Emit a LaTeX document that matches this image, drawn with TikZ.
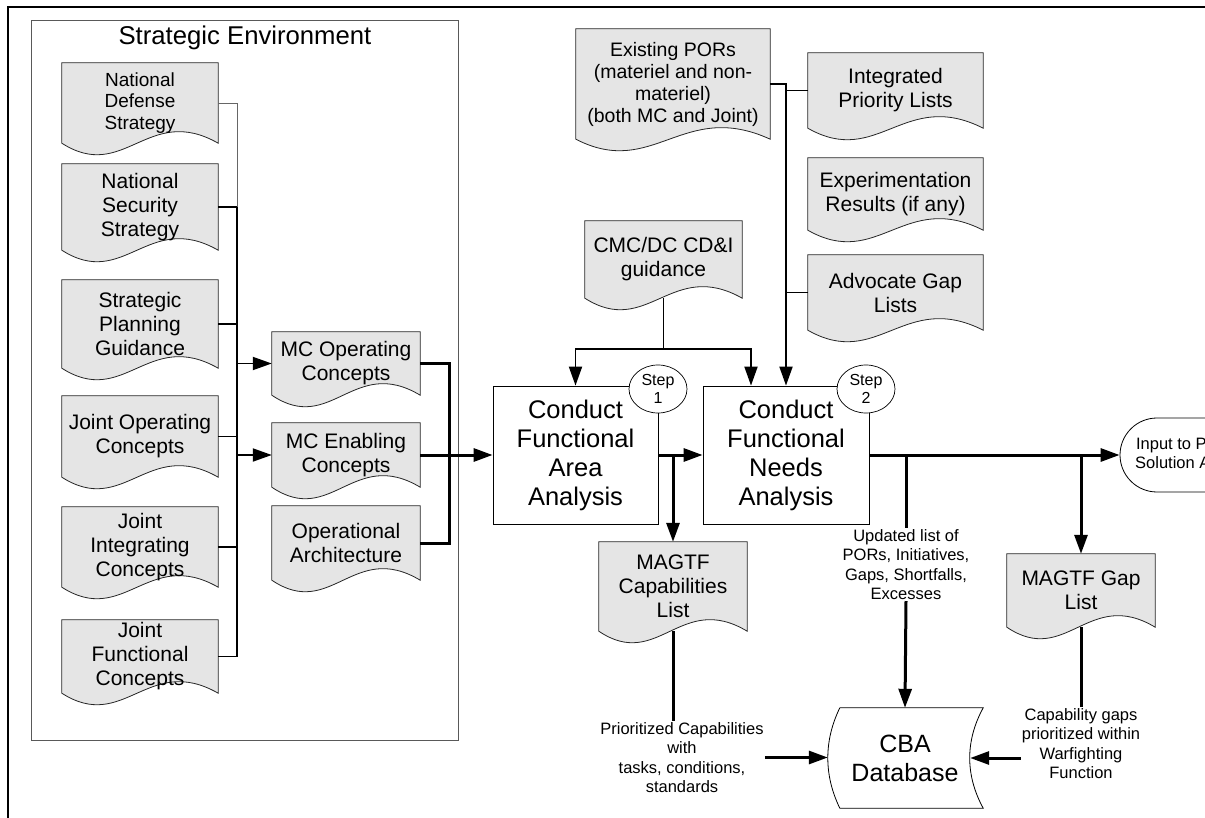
\documentclass[tikz,border=0pt]{standalone}
\usepackage{fontspec}
\setmainfont{Liberation Sans}
\usetikzlibrary{arrows.meta,calc,shapes.geometric,backgrounds}

\tikzset{
  doc/.style={rectangle, inner sep=1pt, align=center, minimum width=156pt,
    font=\fontsize{21}{24}\selectfont},
  docline/.style={draw=black!85, fill=black!10, line width=0.8pt},
  stepbox/.style={rectangle, draw, fill=white, line width=0.8pt, align=center,
    minimum height=138pt, font=\fontsize{25.5}{29}\selectfont},
  stepno/.style={ellipse, draw, fill=white, line width=0.7pt, inner sep=0pt,
    minimum width=58pt, minimum height=48pt, align=center,
    font=\fontsize{16}{17.5}\selectfont},
  lbl/.style={align=center, inner sep=1pt, font=\fontsize{16.5}{19.5}\selectfont},
  link/.style={line width=1.9pt},
  fat/.style={line width=3pt},
}

\newcommand{\docshape}[1]{%
  \filldraw[docline] (#1.south west) -- (#1.north west) -- (#1.north east) -- (#1.south east)
    .. controls ($(#1.south east)!0.45!(#1.south west)+(0,-40)$)
    and ($(#1.south east)!0.6!(#1.south west)+(0,40)$) .. (#1.south west) -- cycle;}

\begin{document}
\begin{tikzpicture}[x=1pt,y=-1pt,>={Triangle[length=19pt,width=13pt]}]
\useasboundingbox (0,0) rectangle (1205,818);
\clip (0,0) rectangle (1205,818);

% frame
\draw[line width=2pt] (8,830) -- (8,7) -- (1220,7);
\draw[draw=black!65, line width=0.9pt] (31,20) rectangle (458,740);
\node[font=\fontsize{25.7}{30}\selectfont] (envt) at (245,38) {Strategic Environment};

% strategic documents
\node[doc, minimum height=80pt, font=\fontsize{19}{21.5}\selectfont] (nds) at (140,103) {National\\Defense\\Strategy};
\node[doc, minimum height=86pt] (nss) at (140,207) {National\\Security\\Strategy};
\node[doc, minimum height=88pt] (spg) at (140,324) {Strategic\\Planning\\Guidance};
\node[doc, minimum height=81pt] (joc) at (140,436.5) {Joint Operating\\Concepts};
\node[doc, minimum height=80pt] (jic) at (140,547) {Joint\\Integrating\\Concepts};
\node[doc, minimum height=73pt] (jfc) at (140,656.5) {Joint\\Functional\\Concepts};

\node[doc, minimum width=148pt, minimum height=63pt] (mco) at (346,363.5) {MC Operating\\Concepts};
\node[doc, minimum width=148pt, minimum height=64pt] (mce) at (346,455) {MC Enabling\\Concepts};
\node[doc, minimum width=148pt, minimum height=74pt] (arc) at (346,543) {Operational\\Architecture};

% inputs
\node[doc, minimum width=194pt, minimum height=110pt, font=\fontsize{19.5}{22}\selectfont] (pors) at (673,84) {Existing PORs\\(materiel and non-\\materiel)\\(both MC and Joint)};
\node[doc, minimum width=175pt, minimum height=75pt] (ipl) at (895.5,90.5) {Integrated\\Priority Lists};
\node[doc, minimum width=175pt, minimum height=72pt] (exr) at (895.5,194) {Experimentation\\Results (if any)};
\node[doc, minimum width=175pt, minimum height=75pt] (agl) at (895.5,292.5) {Advocate Gap\\Lists};
\node[doc, minimum width=157pt, minimum height=77pt] (cmc) at (663.5,259.5) {CMC/DC CD\&I\\guidance};

% steps
\node[stepbox, minimum width=165pt] (faa) at (575.5,455) {Conduct\\Functional\\Area\\Analysis};
\node[stepbox, minimum width=166pt] (fna) at (786,455) {Conduct\\Functional\\Needs\\Analysis};
\node[stepno] (s1) at (658,389) {Step\\1};
\node[stepno] (s2) at (866,389) {Step\\2};

% outputs
\node[doc, minimum width=148pt, minimum height=89pt] (capl) at (673,586.5) {MAGTF\\Capabilities\\List};
\node[doc, minimum width=148pt, minimum height=73pt] (gap) at (1081,590.5) {MAGTF Gap\\List};
\node[rectangle, draw, line width=0.8pt, rounded corners=37pt, minimum width=156pt, minimum height=74pt,
  align=center, font=\fontsize{16.5}{19}\selectfont] (inp) at (1198,455) {Input to Potential\\Solution Analysis};
\node[minimum width=130pt, minimum height=100pt, align=center, font=\fontsize{25}{29}\selectfont] (cba) at (905,758) {CBA\\Database};
\draw[line width=0.8pt] (cba.north west) -- ($(cba.north east)+(13,0)$)
  .. controls ($(cba.north east)+(-5,33)$) and ($(cba.south east)+(-5,-33)$) .. ($(cba.south east)+(13,0)$)
  -- (cba.south west)
  .. controls ($(cba.south west)+(-16,-33)$) and ($(cba.north west)+(-16,33)$) .. (cba.north west);
\coordinate (cbaL) at ($(cba.west)+(-12,0)$);

\node[lbl] (upd) at (906,564.5) {Updated list of\\PORs, Initiatives,\\Gaps, Shortfalls,\\Excesses};
\node[lbl] (prio) at (682,757.5) {Prioritized Capabilities\\with\\tasks, conditions,\\standards};
\node[lbl] (gapl) at (1081,743.5) {Capability gaps\\prioritized within\\Warfighting\\Function};

\begin{scope}[on background layer]
\foreach \d in {nds,nss,spg,joc,jic,jfc,mco,mce,arc,pors,ipl,exr,agl,cmc,capl,gap}
  {\docshape{\d}}
\end{scope}

% left bus
\coordinate (lbus) at (237,0);
\draw[line width=0.9pt, black!60] (nds.east) -- (nds.east -| lbus) -- (nss.east -| lbus);
\draw[link] (nss.east -| lbus) -- (jfc.east -| lbus);
\foreach \n in {nss,spg,joc,jic,jfc}
  \draw[link] (\n.east) -- (\n.east -| lbus);
\draw[link,->] (mco.west -| lbus) -- (mco.west);
\draw[link,->] (mce.west -| lbus) -- (mce.west);

% MC concepts into step 1
\coordinate (rbus) at (449,0);
\draw[fat] (mco.east) -- (mco.east -| rbus) -- (arc.east -| rbus) -- (arc.east);
\draw[fat,->] (mce.east) -- (faa.west);

% guidance and lists
\coordinate (cmcj) at (663.5,349);
\draw[link] (cmc.south) -- (cmcj);
\draw[link,->] (cmcj) -| (faa.north);
\draw[link,->] (cmcj) -| ([xshift=-35pt]fna.north);
\draw[link,->] (pors.east) -- (pors.east -| fna.north) -- (fna.north);
\draw[link] (ipl.west) -- (ipl.west -| fna.north);
\draw[link] (agl.west) -- (agl.west -| fna.north);

% step outputs
\draw[fat,->] (faa.east) -- (fna.west);
\draw[fat,->] (capl.north |- faa.east) -- (capl.north);
\draw[fat] (capl.south) -- (capl.south |- prio.north);
\draw[fat,->] (prio.east) -- (prio.east -| cbaL);
\draw[fat,->] (fna.east) -- (inp.west);
\draw[fat] (upd.north |- fna.east) -- (upd.north);
\draw[fat,->] (upd.south) -- (cba.north);
\draw[fat,->] (gap.north |- fna.east) -- (gap.north);
\draw[fat] (gap.south) -- (gapl.north);
\draw[fat,->] (gapl.west |- cba.east) -- (cba.east);

\end{tikzpicture}
\end{document}
